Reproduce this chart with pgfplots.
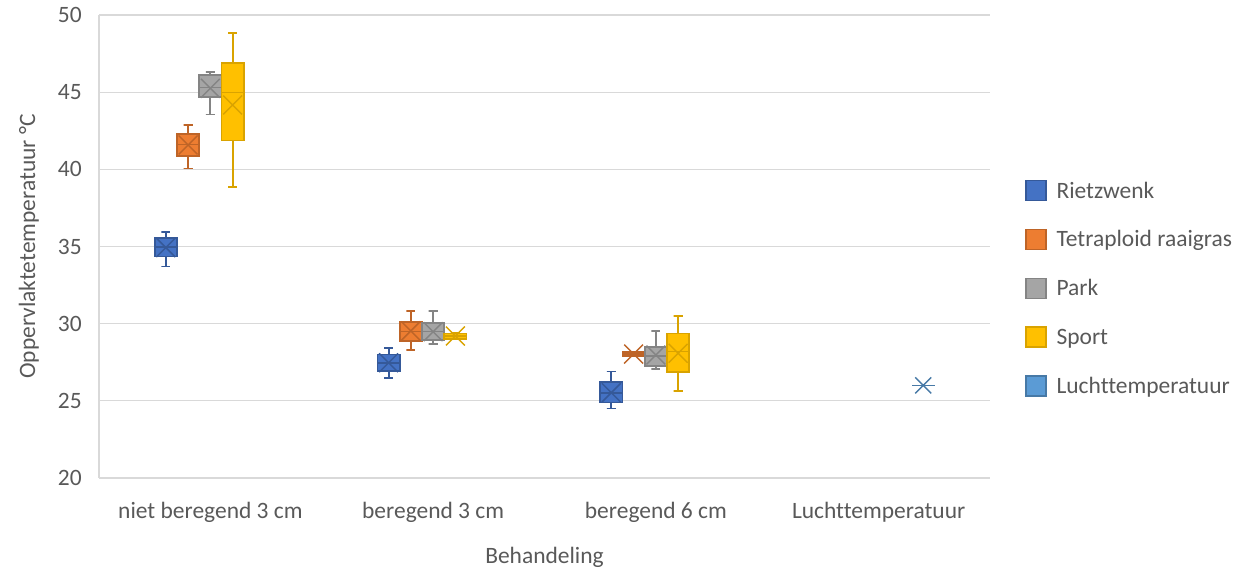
\documentclass[border=0pt]{standalone}
\usepackage{fontspec}
\setmainfont{Carlito}[Ligatures=NoCommon]
\usepackage{pgfplots}
\pgfplotsset{compat=1.18}

\definecolor{txt}{HTML}{595959}
\definecolor{gridc}{HTML}{D9D9D9}
\definecolor{cR}{HTML}{4472C4}\colorlet{cRd}{cR!78!black}
\definecolor{cT}{HTML}{ED7D31}\colorlet{cTd}{cT!80!black}
\definecolor{cP}{HTML}{A5A5A5}\colorlet{cPd}{cP!80!black}
\definecolor{cS}{HTML}{FFC000}\colorlet{cSd}{cS!85!black}
\definecolor{cL}{HTML}{5B9BD5}\colorlet{cLd}{cL!78!black}

\newcommand\fs{\fontsize{17.6pt}{21pt}\selectfont}

% one box: position, lower whisker, lower quartile, median, upper quartile,
% upper whisker, fill colour, edge colour
\newcommand\bxp[8]{%
  \pgfmathsetmacro\xa{#1-0.05}\pgfmathsetmacro\xb{#1+0.05}%
  \pgfmathsetmacro\wa{#1-0.02}\pgfmathsetmacro\wb{#1+0.02}%
  \addplot[forget plot, draw=#8, line width=1.4pt, mark=none]
    coordinates {(#1,#3) (#1,#2) (\wa,#2) (\wb,#2)};
  \addplot[forget plot, draw=#8, line width=1.4pt, mark=none]
    coordinates {(#1,#5) (#1,#6) (\wa,#6) (\wb,#6)};
  \addplot[forget plot, draw=#8, fill=#7, line width=1.3pt, mark=none, line join=miter]
    coordinates {(\xa,#3) (\xb,#3) (\xb,#5) (\xa,#5)} -- cycle;
  \addplot[forget plot, draw=#8, line width=1.2pt, mark=none]
    coordinates {(\xa,#4) (\xb,#4)};
}

\pgfplotsset{
  mn/.style={only marks, mark=x, mark size=10pt, mark options={draw=#1, line width=1.1pt, solid}, forget plot},
}

\begin{document}
\begin{tikzpicture}
\useasboundingbox (0pt,0pt) rectangle (941.25pt,427.5pt);
\begin{axis}[
  at={(74.25pt,69pt)}, anchor=south west,
  scale only axis, width=668.25pt, height=347.25pt,
  xmin=-0.5, xmax=3.5, ymin=20, ymax=50,
  axis lines*=left,
  axis line style={draw=gridc, line width=0.9pt},
  ymajorgrids, grid style={draw=gridc, line width=0.9pt},
  major tick length=0pt,
  xtick={0,1,2,3},
  xticklabels={niet beregend 3 cm, beregend 3 cm, beregend 6 cm, Luchttemperatuur},
  ytick={20,25,...,50},
  /pgf/number format/assume math mode=true,
  tick label style={font=\fs, text=txt, inner sep=0pt},
  xticklabel style={anchor=base, yshift=-30.75pt},
  yticklabel style={anchor=east, xshift=-12.75pt},
  xlabel={Behandeling},
  xlabel style={at={(axis description cs:0.5,0)}, anchor=base, yshift=-64.5pt, font=\fs, text=txt, inner sep=0pt},
  ylabel={Oppervlaktetemperatuur °C},
  ylabel style={at={(axis description cs:-0.0718,0.5)}, anchor=base, font=\fs, text=txt, inner sep=0pt},
  legend style={at={(axis description cs:1.0395,0.6436)}, anchor=north west,
    draw=none, fill=none, inner sep=0pt, outer sep=0pt, font=\fs, text=txt,
    row sep=18.5pt, cells={anchor=base west},
    nodes={inner sep=0pt, text height=13pt, text depth=4.5pt},
    /tikz/every odd column/.append style={column sep=7.5pt}},
  legend image code/.code={\draw[#1] (0pt,-1.9pt) rectangle (15pt,13.1pt);},
]

% Rietzwenk
\bxp{-0.2}{33.7}{34.35}{34.95}{35.55}{35.95}{cR}{cRd}
\bxp{0.8}{26.5}{26.95}{27.45}{28.0}{28.4}{cR}{cRd}
\bxp{1.8}{24.5}{24.9}{25.5}{26.2}{26.9}{cR}{cRd}
\addplot[mn=cRd] coordinates {(-0.2,34.93) (0.8,27.47) (1.8,25.53)};

% Tetraploid raaigras
\bxp{-0.1}{40.05}{40.87}{41.6}{42.3}{42.88}{cT}{cTd}
\bxp{0.9}{28.3}{28.9}{29.5}{30.13}{30.82}{cT}{cTd}
\bxp{1.9}{27.9}{27.92}{28.05}{28.18}{28.2}{cT}{cTd}
\addplot[mn=cTd] coordinates {(-0.1,41.58) (0.9,29.53) (1.9,28.03)};

% Park
\bxp{0}{43.55}{44.7}{45.3}{46.1}{46.3}{cP}{cPd}
\bxp{1}{28.66}{28.94}{29.5}{30.02}{30.82}{cP}{cPd}
\bxp{2}{27.06}{27.28}{27.9}{28.5}{29.53}{cP}{cPd}
\addplot[mn=cPd] coordinates {(0,45.25) (1,29.48) (2,27.97)};

% Sport
\bxp{0.1}{38.88}{41.86}{44.97}{46.9}{48.86}{cS}{cSd}
\bxp{1.1}{28.99}{29.0}{29.2}{29.37}{29.4}{cS}{cSd}
\bxp{2.1}{25.64}{26.85}{28.19}{29.37}{30.52}{cS}{cSd}
\addplot[mn=cSd] coordinates {(0.1,44.17) (1.1,29.2) (2.1,28.08)};

% Luchttemperatuur: single measurement
\addplot[only marks, mark=x, mark size=8.5pt, mark options={draw=cLd, line width=1.1pt}, forget plot] coordinates {(3.2,26.0)};
\addplot[only marks, mark=-, mark size=8.6pt, mark options={draw=cLd, line width=1.1pt}, forget plot] coordinates {(3.2,26.0)};

\addlegendimage{fill=cR, draw=cRd, line width=1pt}
\addlegendentry{Rietzwenk}
\addlegendimage{fill=cT, draw=cTd, line width=1pt}
\addlegendentry{Tetraploid raaigras}
\addlegendimage{fill=cP, draw=cPd, line width=1pt}
\addlegendentry{Park}
\addlegendimage{fill=cS, draw=cSd, line width=1pt}
\addlegendentry{Sport}
\addlegendimage{fill=cL, draw=cLd, line width=1pt}
\addlegendentry{Luchttemperatuur}
\end{axis}
\end{tikzpicture}
\end{document}
